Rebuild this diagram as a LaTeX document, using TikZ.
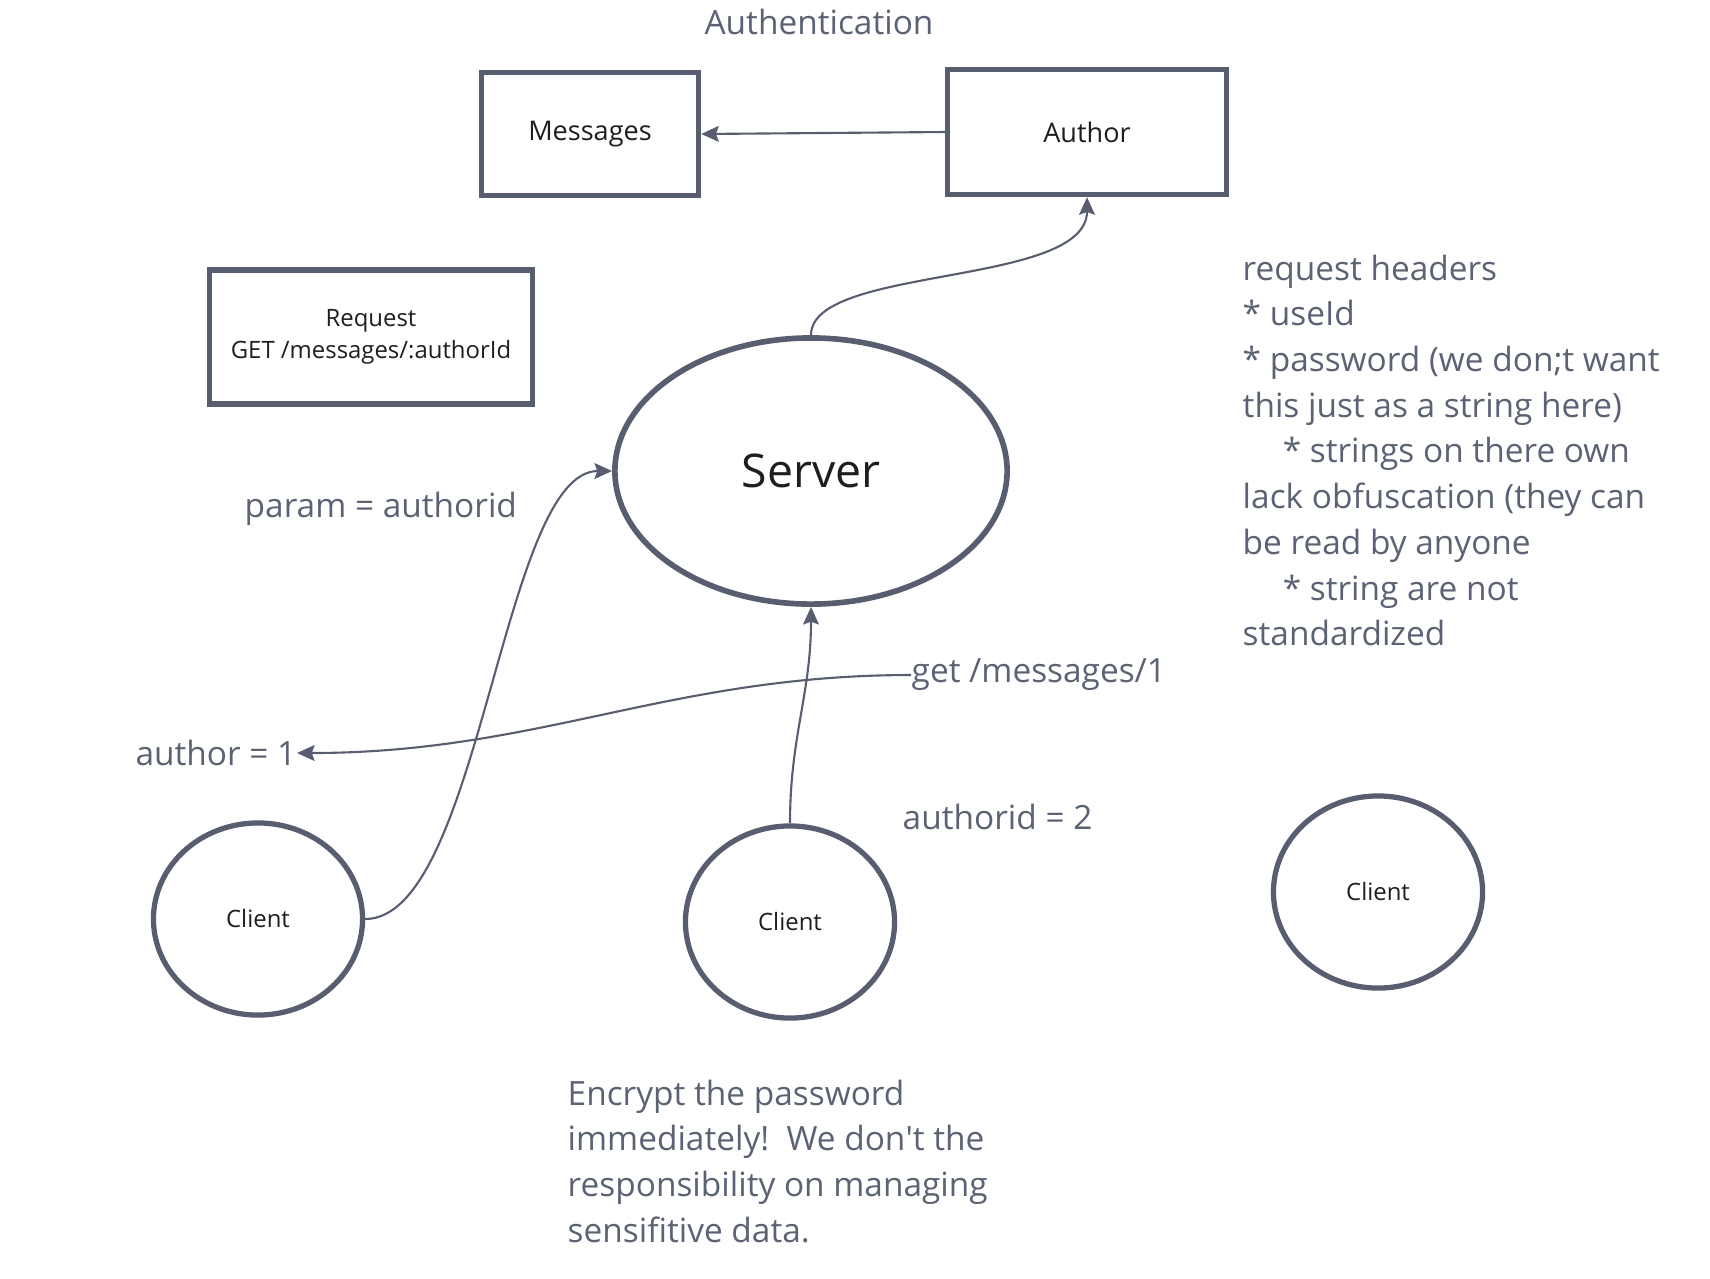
\documentclass[tikz,border=0pt]{standalone}
\usepackage{fontspec}
\setmainfont{Open Sans}
\usetikzlibrary{arrows.meta,positioning,shapes.geometric}
\definecolor{inkline}{HTML}{585E70}
\definecolor{inknote}{HTML}{5A6274}
\definecolor{inktext}{HTML}{1E1E22}

\begin{document}
\begin{tikzpicture}[x=0.01cm,y=-0.01cm,
  box/.style={draw=inkline, line width=1.5pt, minimum width=2.17cm, minimum height=1.23cm,
              align=center, text=inktext, font=\fontsize{7.7}{9.2}\selectfont},
  client/.style={ellipse, draw=inkline, line width=1.5pt, minimum width=2.09cm,
                 minimum height=1.92cm, inner sep=0pt, text=inktext, font=\fontsize{6.8}{8}\selectfont},
  note/.style={text=inknote, inner sep=0pt, align=left, font=\fontsize{9.5}{13}\selectfont},
  arr/.style={-{Stealth[length=5pt,width=4.5pt,inset=0.8pt]}, draw=inkline, line width=0.6pt}
]
\useasboundingbox (0,0) rectangle (1710,1278);

\node[note, align=center] (title) at (819,22) {Authentication};
\node[box] (messages) at (590,134) {Messages};
\node[box, minimum width=2.79cm, minimum height=1.25cm] (author) at (1087,132) {Author};
\node[box, minimum width=3.23cm, minimum height=1.34cm, font=\fontsize{6.8}{9.1}\selectfont]
  (request) at (371,337) {Request\\GET /messages/:authorId};
\node[ellipse, draw=inkline, line width=1.6pt, minimum width=3.92cm, minimum height=2.66cm,
      inner sep=0pt, text=inktext, font=\fontsize{13.2}{15}\selectfont] (server) at (811,471) {Server};

\node[client] (client1) at (258,919) {Client};
\node[client] (client2) at (790,922) {Client};
\node[client] (client3) at (1378,892) {Client};

% labels
\node[note, anchor=base west] (param) at (244,517) {param = authorid};
\node[note, anchor=east] (authlbl) at (297,753) {author = 1};
\node[note, anchor=west] (getlbl) at (911,675) {get /messages/1};
\node[note, anchor=base west] (authid) at (902,829) {authorid = 2};

\node[note, anchor=north west] (headers) at (1242,254) {request headers\\
  * useId\\
  * password (we don;t want\\
  this just as a string here)\\
  \hspace*{0.4cm}* strings on there own\\
  lack obfuscation (they can\\
  be read by anyone\\
  \hspace*{0.4cm}* string are not\\
  standardized};
\node[note, anchor=north west] (encrypt) at (567,1079) {Encrypt the password\\
  immediately!\ \ We don\textquotesingle t the\\
  responsibility on managing\\
  sensifitive data.};

% connectors
\draw[arr] (author.west) -- (messages.east);
\draw[arr] (server.north) .. controls +(0,-70) and +(0,90) .. (author.south);
\draw[arr] (client1.east) .. controls +(115,0) and +(-110,0) .. (server.west);
\draw[arr] (client2.north) .. controls +(0,-87) and +(0,87) .. (server.south);
\draw[arr] (getlbl.west) .. controls +(-242,0) and +(242,0) .. (authlbl.east);
\end{tikzpicture}
\end{document}
